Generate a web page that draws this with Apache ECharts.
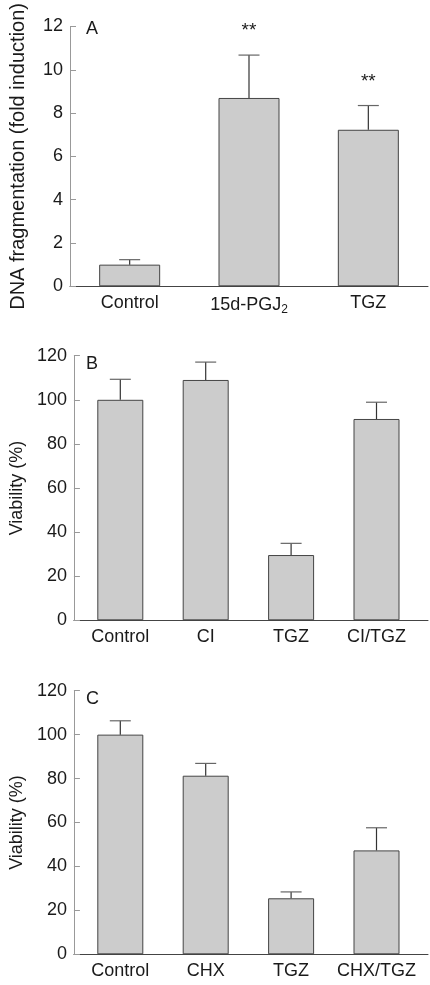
<!DOCTYPE html>
<html>
<head>
<meta charset="utf-8">
<script src="https://cdn.jsdelivr.net/npm/echarts@6/dist/echarts.min.js"></script>
<style>html,body{margin:0;padding:0;background:#fff}#c{width:430px;height:985px}</style>
</head>
<body>
<div id="c"></div>
<script>
// Panel A
var catsA = ['Control', '15d-PGJ2', 'TGZ'];
var meanA = [1.0, 8.7, 7.23];
var errA = [0.23, 1.98, 1.12];
var sigA = ['', '**', '**'];
var ticksA = {min: 0, max: 12, interval: 2};
// Panel B
var catsB = ['Control', 'CI', 'TGZ', 'CI/TGZ'];
var meanB = [100, 109, 29.6, 91.3];
var errB = [9.3, 8.1, 5.3, 7.6];
// Panel C
var catsC = ['Control', 'CHX', 'TGZ', 'CHX/TGZ'];
var meanC = [100, 81.3, 25.5, 47.3];
var errC = [6.3, 5.6, 2.9, 10.3];
var ticksBC = {min: 0, max: 120, interval: 20};

var FONT = 'Liberation Sans';
var TXT = '#1a1a1a';
var AXG = '#999';
var DARK = '#444';

function errData(mean, err) {
  return mean.map(function (m, i) { return [i, m, m + err[i]]; });
}
function errSeries(xi, yi, mean, err, sig) {
  return {
    type: 'custom', xAxisIndex: xi, yAxisIndex: yi, z: 5,
    data: errData(mean, err),
    renderItem: function (params, api) {
      var p0 = api.coord([api.value(0), api.value(1)]);
      var p1 = api.coord([api.value(0), api.value(2)]);
      var children = [
        {type: 'line', shape: {x1: p0[0], y1: p0[1], x2: p1[0], y2: p1[1]}, style: {stroke: '#333', lineWidth: 1.2}},
        {type: 'line', shape: {x1: p1[0] - 10.5, y1: p1[1], x2: p1[0] + 10.5, y2: p1[1]}, style: {stroke: '#666', lineWidth: 1.2}}
      ];
      var s = sig ? sig[params.dataIndex] : '';
      if (s) {
        children.push({type: 'text', style: {text: s, x: p1[0], y: p1[1] - 24, textAlign: 'center', textVerticalAlign: 'middle', fontSize: 19, fontFamily: FONT, fontWeight: 'normal', fill: TXT}});
      }
      return {type: 'group', children: children};
    }
  };
}
function barSeries(xi, yi, data, w) {
  return {
    type: 'bar', xAxisIndex: xi, yAxisIndex: yi, data: data, barWidth: w,
    itemStyle: {color: '#cccccc', borderColor: DARK, borderWidth: 1}, z: 2
  };
}
function valueY(grid, t, name, nameSize, show) {
  return {
    type: 'value', gridIndex: grid, min: t.min, max: t.max, interval: t.interval, show: show,
    name: name, nameLocation: 'middle', nameGap: 42,
    nameTextStyle: {fontFamily: FONT, fontSize: nameSize, color: TXT},
    axisLine: {show: true, lineStyle: {color: AXG, width: 1}},
    axisTick: {show: true, inside: true, length: 6, lineStyle: {color: AXG, width: 1}},
    axisLabel: {margin: 7, fontFamily: FONT, fontSize: 18, color: TXT},
    splitLine: {show: false}
  };
}
function catX(grid, cats, showLine) {
  return {
    type: 'category', gridIndex: grid, data: cats, boundaryGap: true,
    axisLine: {show: showLine, onZero: false, lineStyle: {color: DARK, width: 1}},
    axisTick: {show: false},
    axisLabel: {
      margin: 8, fontFamily: FONT, fontSize: 18, color: TXT, interval: 0,
      formatter: function (v) { return v === '15d-PGJ2' ? '15d-PGJ{sub|2}' : v; },
      rich: {sub: {fontFamily: FONT, fontSize: 12, color: TXT, padding: [9, 0, 0, 0]}}
    },
    splitLine: {show: false}
  };
}
function lineX(grid) {
  return {
    type: 'value', gridIndex: grid, min: 0, max: 1,
    axisLine: {show: true, onZero: false, lineStyle: {color: DARK, width: 1}},
    axisTick: {show: false}, axisLabel: {show: false}, splitLine: {show: false}
  };
}
function letter(t, top) {
  return {text: t, left: 86, top: top, padding: 0, textStyle: {fontFamily: FONT, fontSize: 18, fontWeight: 'normal', color: TXT}};
}

var chart = echarts.init(document.getElementById('c'), null, {renderer: 'canvas'});
chart.setOption({
  animation: false,
  backgroundColor: '#fff',
  title: [letter('A', 20), letter('B', 355), letter('C', 690)],
  grid: [
    {left: 68, top: 22, width: 360, height: 264.3},
    {left: 68, top: 355.7, width: 360, height: 264.6},
    {left: 77.6, top: 355.7, width: 341.6, height: 264.6},
    {left: 68, top: 690.7, width: 360, height: 263.6},
    {left: 77.6, top: 690.7, width: 341.6, height: 263.6}
  ],
  xAxis: [
    catX(0, catsA, true),
    lineX(1),
    catX(2, catsB, false),
    lineX(3),
    catX(4, catsC, false)
  ],
  yAxis: [
    valueY(0, ticksA, 'DNA fragmentation (fold induction)', 20, true),
    valueY(1, ticksBC, 'Viability (%)', 18, true),
    valueY(2, ticksBC, '', 18, false),
    valueY(3, ticksBC, 'Viability (%)', 18, true),
    valueY(4, ticksBC, '', 18, false)
  ],
  series: [
    barSeries(0, 0, meanA, 61),
    errSeries(0, 0, meanA, errA, sigA),
    barSeries(2, 2, meanB, 46),
    errSeries(2, 2, meanB, errB, null),
    barSeries(4, 4, meanC, 46),
    errSeries(4, 4, meanC, errC, null)
  ]
});
</script>
</body>
</html>
